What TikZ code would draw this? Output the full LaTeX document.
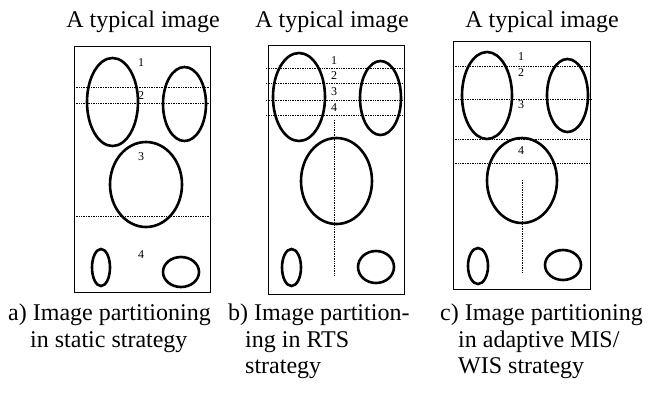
\documentclass[tikz,border=0pt]{standalone}
\usepackage{fontspec}
\setmainfont{Liberation Serif}
\begin{document}
\begin{tikzpicture}[
  x=1pt, y=-1pt,
  frame/.style={draw, line width=0.8pt},
  blob/.style={draw, line width=2.6pt},
  cut/.style={draw, line width=0.7pt, dash pattern=on 0.8pt off 0.9pt},
  title/.style={anchor=base, inner sep=0pt, font=\fontsize{24}{26.5}\selectfont},
  caption/.style={anchor=north west, inner sep=0pt, align=left,
                  font=\fontsize{24}{26.5}\selectfont},
  num/.style={inner sep=0pt, font=\fontsize{12}{14}\selectfont}
]
  \useasboundingbox (0,0) rectangle (661,392);

  % a) static
  \node[title] (ta) at (143,27) {A typical image};
  \draw[frame] (74,46) rectangle (210,292);
  \draw[blob] (112.5,102) ellipse [x radius=25.5, y radius=44];
  \draw[blob] (184.5,104) ellipse [x radius=21.5, y radius=37];
  \draw[blob] (146,184.5) ellipse [x radius=36, y radius=42.5];
  \draw[blob] (101,267.5) ellipse [x radius=9, y radius=18.5];
  \draw[blob] (181,272) ellipse [x radius=18, y radius=15];
  \draw[cut] (74,87) -- (210,87);
  \draw[cut] (74,103) -- (210,103);
  \draw[cut] (74,216) -- (210,216);
  \node[num] (a1) at (141,63) {1};
  \node[num] (a2) at (141,96) {2};
  \node[num] (a3) at (141,157) {3};
  \node[num] (a4) at (141,255) {4};
  \node[caption] (ca) at (8,304)
    {a) Image partitioning\\\hspace{22pt}in static strategy};

  % b) RTS
  \node[title] (tb) at (332,27) {A typical image};
  \draw[frame] (268,45) rectangle (404,294);
  \draw[blob] (299,97) ellipse [x radius=26, y radius=44];
  \draw[blob] (380.5,98) ellipse [x radius=20.5, y radius=37];
  \draw[blob] (336.5,181) ellipse [x radius=35.5, y radius=43];
  \draw[blob] (291.5,267.5) ellipse [x radius=9.5, y radius=18.5];
  \draw[blob] (376,267) ellipse [x radius=18, y radius=16];
  \draw[cut] (266,68) -- (404,68);
  \draw[cut] (266,83) -- (404,83);
  \draw[cut] (266,100) -- (404,100);
  \draw[cut] (266,115) -- (404,115);
  \draw[cut] (334,120) -- (334,275);
  \node[num] (b1) at (334,61) {1};
  \node[num] (b2) at (334,76) {2};
  \node[num] (b3) at (334,92) {3};
  \node[num] (b4) at (334,108) {4};
  \node[caption] (cb) at (228,304)
    {b) Image partition-\\\hspace{17pt}ing in RTS\\\hspace{17pt}strategy};

  % c) adaptive MIS/WIS
  \node[title] (tc) at (542,27) {A typical image};
  \draw[frame] (453,41) rectangle (590,289);
  \draw[blob] (487,95.5) ellipse [x radius=25, y radius=43.5];
  \draw[blob] (567.5,95.5) ellipse [x radius=20.5, y radius=36.5];
  \draw[blob] (522,180.5) ellipse [x radius=35, y radius=42.5];
  \draw[blob] (478,266) ellipse [x radius=10, y radius=18];
  \draw[blob] (563,265) ellipse [x radius=18, y radius=15];
  \draw[cut] (453,66) -- (590,66);
  \draw[cut] (453,99) -- (592,99);
  \draw[cut] (453,139) -- (590,139);
  \draw[cut] (453,163) -- (590,163);
  \draw[cut] (522,180) -- (522,273);
  \node[num] (c1) at (521,57) {1};
  \node[num] (c2) at (521,73) {2};
  \node[num] (c3) at (521,105) {3};
  \node[num] (c4) at (521,151) {4};
  \node[caption] (cc) at (440,304)
    {c) Image partitioning\\\hspace{18pt}in adaptive MIS/\\\hspace{18pt}WIS strategy};
\end{tikzpicture}
\end{document}
